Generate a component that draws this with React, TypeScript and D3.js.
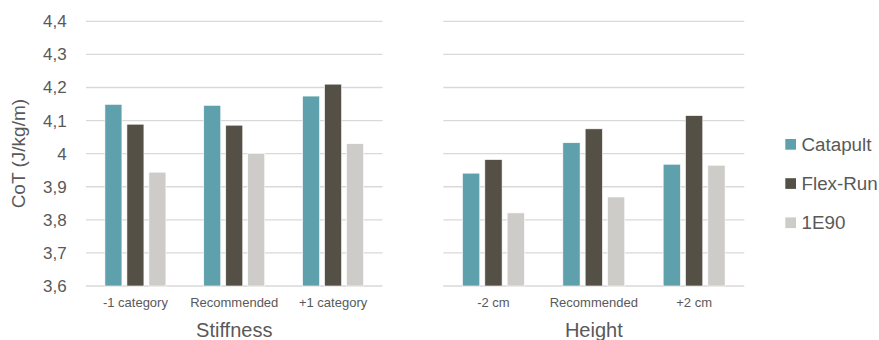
import React from "react";
import * as d3 from "d3";

const seriesNames = ["Catapult", "Flex-Run", "1E90"];
const seriesColors = ["#5fa0ad", "#555045", "#cdccc8"];

const stiffnessCategories = ["-1 category", "Recommended", "+1 category"];
const stiffnessCatapult = [4.149, 4.146, 4.174];
const stiffnessFlexRun = [4.089, 4.086, 4.21];
const stiffness1E90 = [3.944, 4.0, 4.03];

const heightCategories = ["-2 cm", "Recommended", "+2 cm"];
const heightCatapult = [3.941, 4.033, 3.968];
const heightFlexRun = [3.982, 4.075, 4.115];
const height1E90 = [3.821, 3.869, 3.965];

const yTicks = [3.6, 3.7, 3.8, 3.9, 4.0, 4.1, 4.2, 4.3, 4.4];

const W = 879;
const H = 340;
const FONT = "'Liberation Sans', Arial, sans-serif";
const TEXT = "#595959";

const y = d3.scaleLinear().domain([3.6, 4.4]).range([286, 21.3]);

function fmt(v: number) {
  const s = d3.format(".1f")(v);
  return (s.endsWith(".0") ? s.slice(0, -2) : s).replace(".", ",");
}

type PanelProps = {
  x0: number;
  x1: number;
  categories: string[];
  values: number[][];
  title: string;
};

function Panel({ x0, x1, categories, values, title }: PanelProps) {
  const xb = d3.scaleBand<string>().domain(categories).range([x0, x1]).padding(0);
  const xs = d3
    .scaleBand<string>()
    .domain(seriesNames)
    .range([0, xb.bandwidth()])
    .paddingInner(0.227)
    .paddingOuter(0.86);
  return (
    <g>
      {yTicks.map((t) => (
        <line
          key={t}
          x1={x0}
          x2={x1}
          y1={y(t)}
          y2={y(t)}
          stroke="#d9d9d9"
          strokeWidth={1.3}
        />
      ))}
      {categories.map((c, ci) =>
        seriesNames.map((s, si) => {
          const v = values[si][ci];
          return (
            <rect
              key={c + s}
              x={(xb(c) as number) + (xs(s) as number)}
              y={y(v)}
              width={xs.bandwidth()}
              height={y(3.6) - y(v)}
              fill={seriesColors[si]}
              stroke="#ffffff"
              strokeWidth={0.6}
            />
          );
        })
      )}
      {categories.map((c) => (
        <text
          key={c}
          x={(xb(c) as number) + xb.bandwidth() / 2}
          y={307.3}
          textAnchor="middle"
          fontSize={13}
          fill={TEXT}
          fontFamily={FONT}
        >
          {c}
        </text>
      ))}
      <text
        x={(x0 + x1) / 2}
        y={337.3}
        textAnchor="middle"
        fontSize={20}
        fill={TEXT}
        fontFamily={FONT}
      >
        {title}
      </text>
    </g>
  );
}

export default function App() {
  return (
    <svg
      width={W}
      height={H}
      style={{ position: "absolute", left: 0, top: 0, background: "#fff" }}
    >
      <rect width={W} height={H} fill="#fff" />
      {yTicks.map((t) => (
        <text
          key={t}
          x={66.7}
          y={y(t)}
          dy="0.35em"
          textAnchor="end"
          fontSize={17}
          fill={TEXT}
          fontFamily={FONT}
        >
          {fmt(t)}
        </text>
      ))}
      <text
        transform={`translate(24.5, ${(y(3.6) + y(4.4)) / 2}) rotate(-90)`}
        textAnchor="middle"
        fontSize={19}
        fill={TEXT}
        fontFamily={FONT}
      >
        CoT (J/kg/m)
      </text>
      <Panel
        x0={86}
        x1={382.5}
        categories={stiffnessCategories}
        values={[stiffnessCatapult, stiffnessFlexRun, stiffness1E90]}
        title="Stiffness"
      />
      <Panel
        x0={443.3}
        x1={744.3}
        categories={heightCategories}
        values={[heightCatapult, heightFlexRun, height1E90]}
        title="Height"
      />
      {seriesNames.map((s, i) => {
        const cy = 144.3 + i * 39.2;
        return (
          <g key={s}>
            <rect x={785.3} y={cy - 5.3} width={10.7} height={10.7} fill={seriesColors[i]} />
            <text
              x={801.5}
              y={cy}
              dy="0.35em"
              fontSize={18.8}
              fill={TEXT}
              fontFamily={FONT}
            >
              {s}
            </text>
          </g>
        );
      })}
    </svg>
  );
}
